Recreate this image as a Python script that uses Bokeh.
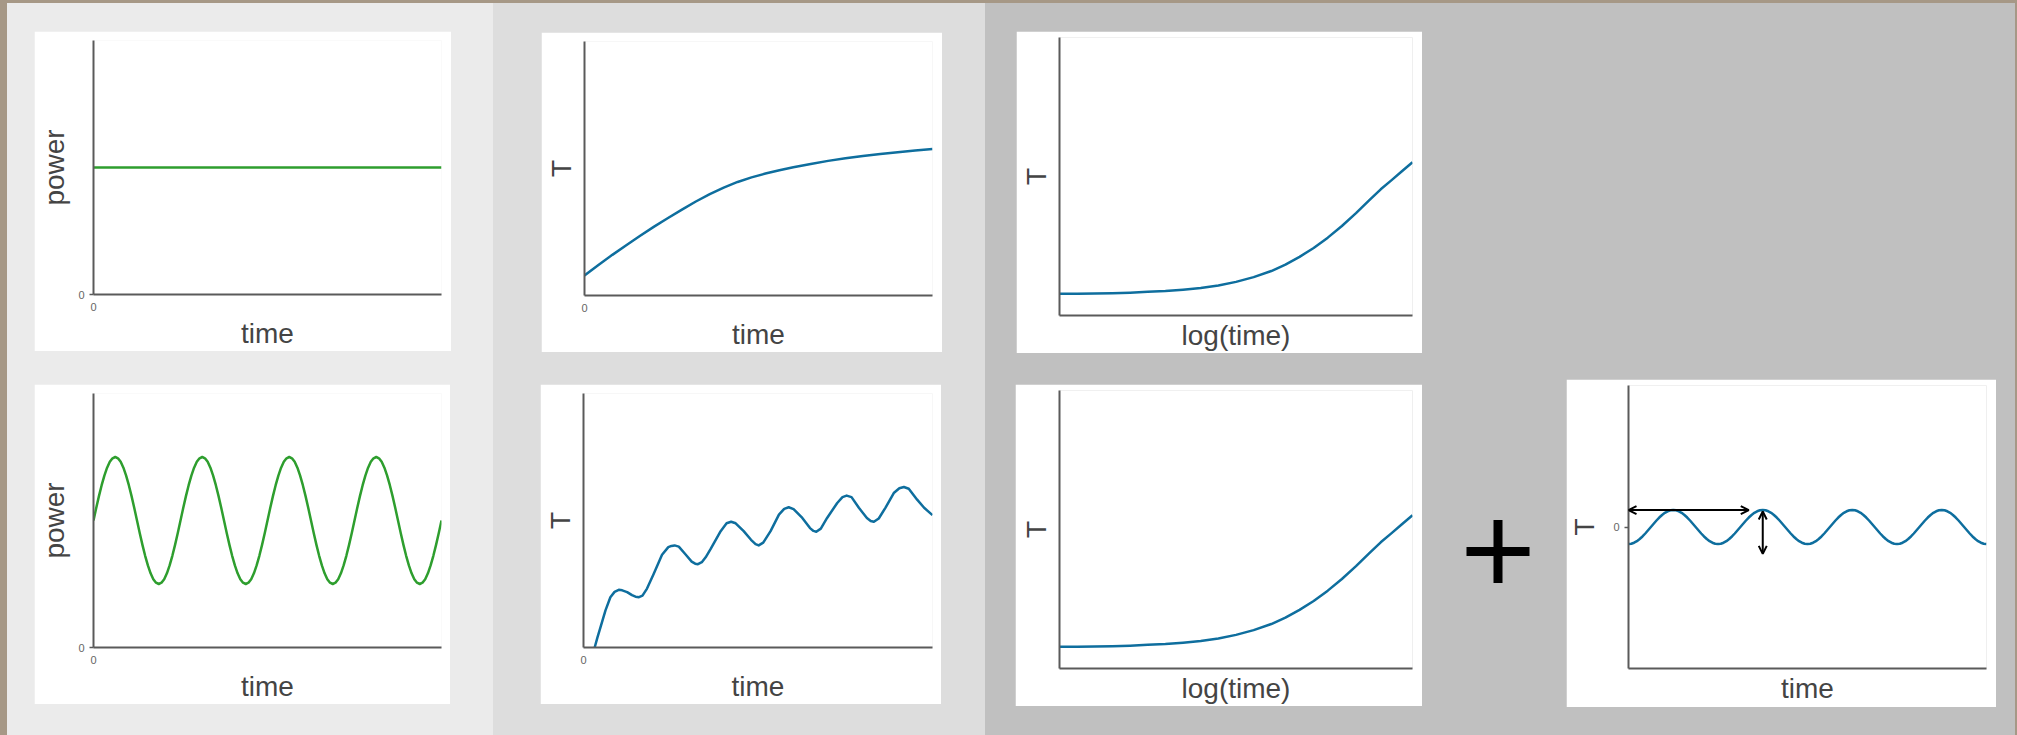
from bokeh.plotting import figure
from bokeh.layouts import row, column
from bokeh.models import Range1d, FixedTicker, Spacer, Arrow, OpenHead
from bokeh.embed import file_html
from bokeh.resources import INLINE

# ---------------- data ----------------
# constant heating power
power_const_time = [0, 128]
power_const = [0.5, 0.5]

# oscillating heating power (32 samples per cycle, 4 cycles)
wave_time = list(range(129))
power_wave = [
    0.5, 0.549, 0.596, 0.639, 0.677, 0.708, 0.731, 0.745,
    0.75, 0.745, 0.731, 0.708, 0.677, 0.639, 0.596, 0.549,
    0.5, 0.451, 0.404, 0.361, 0.323, 0.292, 0.269, 0.255,
    0.25, 0.255, 0.269, 0.292, 0.323, 0.361, 0.404, 0.451,
    0.5, 0.549, 0.596, 0.639, 0.677, 0.708, 0.731, 0.745,
    0.75, 0.745, 0.731, 0.708, 0.677, 0.639, 0.596, 0.549,
    0.5, 0.451, 0.404, 0.361, 0.323, 0.292, 0.269, 0.255,
    0.25, 0.255, 0.269, 0.292, 0.323, 0.361, 0.404, 0.451,
    0.5, 0.549, 0.596, 0.639, 0.677, 0.708, 0.731, 0.745,
    0.75, 0.745, 0.731, 0.708, 0.677, 0.639, 0.596, 0.549,
    0.5, 0.451, 0.404, 0.361, 0.323, 0.292, 0.269, 0.255,
    0.25, 0.255, 0.269, 0.292, 0.323, 0.361, 0.404, 0.451,
    0.5, 0.549, 0.596, 0.639, 0.677, 0.708, 0.731, 0.745,
    0.75, 0.745, 0.731, 0.708, 0.677, 0.639, 0.596, 0.549,
    0.5, 0.451, 0.404, 0.361, 0.323, 0.292, 0.269, 0.255,
    0.25, 0.255, 0.269, 0.292, 0.323, 0.361, 0.404, 0.451,
    0.5,
]

# temperature rise under constant power (time in % of span)
rise_time = [0, 4, 8, 12, 16, 20, 24, 28, 32, 36, 40, 44, 48, 52, 56, 60,
             65, 70, 75, 80, 85, 90, 95, 100]
rise_T = [0.079, 0.120, 0.160, 0.198, 0.235, 0.271, 0.305, 0.338, 0.370,
          0.399, 0.425, 0.447, 0.465, 0.480, 0.493, 0.505, 0.518, 0.530,
          0.540, 0.549, 0.557, 0.564, 0.571, 0.577]

# temperature rise under oscillating power
osc_time = [3.2, 4.0, 4.9, 6.3, 7.7, 8.9, 10.1,
            11.1, 12.5, 13.9, 14.9, 15.9,
            16.9, 18.2, 20.1, 22.5, 24.3, 25.2, 26.1,
            27.3, 29.2, 31.0, 32.0, 32.8,
            33.9, 35.0, 36.4, 39.3, 41.0, 42.3,
            43.6, 45.9, 48.0, 49.3, 50.2,
            51.5, 53.6, 56.0, 57.5, 58.8,
            60.2, 62.7, 64.9, 65.9, 66.7,
            68.0, 69.8, 72.7, 74.2, 75.4,
            76.8, 78.9, 81.2, 82.3, 83.2,
            84.6, 86.5, 88.9, 90.5, 91.8,
            93.2, 95.6, 97.6, 100]
osc_T = [0.0, 0.04, 0.081, 0.146, 0.198, 0.219, 0.227,
         0.225, 0.218, 0.206, 0.2, 0.198,
         0.204, 0.232, 0.289, 0.365, 0.395, 0.4, 0.402,
         0.397, 0.367, 0.338, 0.33, 0.328,
         0.336, 0.355, 0.387, 0.458, 0.489, 0.495,
         0.489, 0.458, 0.424, 0.407, 0.402,
         0.413, 0.458, 0.523, 0.546, 0.552,
         0.545, 0.51, 0.47, 0.459, 0.456,
         0.468, 0.51, 0.569, 0.592, 0.598,
         0.592, 0.55, 0.51, 0.498, 0.495,
         0.508, 0.55, 0.608, 0.627, 0.632,
         0.625, 0.582, 0.55, 0.521]

# temperature against log(time)
log_time = [0, 5, 10, 15, 20, 25, 30, 35, 40, 45, 50, 55, 60, 64, 68, 72,
            76, 80, 84, 88, 91, 94, 97, 100]
log_T = [0.078, 0.0785, 0.079, 0.080, 0.082, 0.085, 0.088, 0.093, 0.099,
         0.108, 0.121, 0.138, 0.160, 0.183, 0.211, 0.243, 0.280, 0.322,
         0.368, 0.418, 0.454, 0.486, 0.519, 0.551]

# steady oscillating temperature about zero (32 samples per cycle)
T_wave = [
    -0.12, -0.118, -0.111, -0.1, -0.085, -0.067, -0.046, -0.023,
    0.0, 0.023, 0.046, 0.067, 0.085, 0.1, 0.111, 0.118,
    0.12, 0.118, 0.111, 0.1, 0.085, 0.067, 0.046, 0.023,
    0.0, -0.023, -0.046, -0.067, -0.085, -0.1, -0.111, -0.118,
    -0.12, -0.118, -0.111, -0.1, -0.085, -0.067, -0.046, -0.023,
    0.0, 0.023, 0.046, 0.067, 0.085, 0.1, 0.111, 0.118,
    0.12, 0.118, 0.111, 0.1, 0.085, 0.067, 0.046, 0.023,
    0.0, -0.023, -0.046, -0.067, -0.085, -0.1, -0.111, -0.118,
    -0.12, -0.118, -0.111, -0.1, -0.085, -0.067, -0.046, -0.023,
    0.0, 0.023, 0.046, 0.067, 0.085, 0.1, 0.111, 0.118,
    0.12, 0.118, 0.111, 0.1, 0.085, 0.067, 0.046, 0.023,
    0.0, -0.023, -0.046, -0.067, -0.085, -0.1, -0.111, -0.118,
    -0.12, -0.118, -0.111, -0.1, -0.085, -0.067, -0.046, -0.023,
    0.0, 0.023, 0.046, 0.067, 0.085, 0.1, 0.111, 0.118,
    0.12, 0.118, 0.111, 0.1, 0.085, 0.067, 0.046, 0.023,
    0.0, -0.023, -0.046, -0.067, -0.085, -0.1, -0.111, -0.118,
    -0.12,
]
# period and amplitude markers
period_arrow_x = [0, 43]
period_arrow_y = 0.12
amp_arrow_x = 48
amp_arrow_y = [0.11, -0.19]

GREEN = "#2e9e2e"
BLUE = "#0e6e9e"
FONT = "Liberation Sans"


def panel(w, h, borders, x_end, y_range, xlabel, ylabel, xticks, yticks,
          ylabel_standoff=5, xlabel_standoff=4):
    top, right, bottom, left = borders
    p = figure(width=w, height=h, x_range=Range1d(0, x_end),
               y_range=Range1d(*y_range), toolbar_location=None,
               output_backend="svg", min_border_top=top,
               min_border_right=right, min_border_bottom=bottom,
               min_border_left=left)
    p.grid.visible = False
    p.outline_line_color = None
    p.background_fill_color = "white"
    p.border_fill_color = "white"
    for ax, ticks, label, standoff in ((p.xaxis[0], xticks, xlabel, xlabel_standoff),
                                       (p.yaxis[0], yticks, ylabel, ylabel_standoff)):
        ax.ticker = FixedTicker(ticks=ticks, minor_ticks=[])
        ax.axis_label = label
        ax.axis_label_text_font = FONT
        ax.axis_label_text_font_size = "28px"
        ax.axis_label_text_font_style = "normal"
        ax.axis_label_text_color = "#444444"
        ax.axis_label_standoff = standoff
        ax.axis_line_color = "#5a5a5a"
        ax.axis_line_width = 2
        ax.major_tick_in = 0
        ax.minor_tick_in = 0
        ax.minor_tick_out = 0
        ax.major_tick_line_color = "#5a5a5a"
        ax.major_tick_line_width = 1.5
        ax.major_label_text_font = FONT
        ax.major_label_text_font_size = "11px"
        ax.major_label_text_color = "#666666"
    p.xaxis[0].major_tick_out = 0
    p.xaxis[0].major_label_standoff = 8 if xticks else 0
    p.yaxis[0].major_tick_out = 4 if yticks else 0
    p.yaxis[0].major_label_standoff = 5 if yticks else 0
    return p


# column 1: heating power
p1 = panel(417, 320, (9, 10, 55, 59), 128, (0, 1), "time", "power", [0], [0])
p1.line(power_const_time, power_const, line_color=GREEN, line_width=2.5)

p2 = panel(416, 320, (9, 9, 55, 59), 128, (0, 1), "time", "power", [0], [0])
p2.line(wave_time, power_wave, line_color=GREEN, line_width=2.5, line_join="round")

# column 2: temperature against time
p3 = panel(401, 320, (9, 10, 55, 43), 100, (0, 1), "time", "T", [0], [], ylabel_standoff=8)
p3.line(rise_time, rise_T, line_color=BLUE, line_width=2.5, line_join="round")

p4 = panel(401, 320, (9, 9, 55, 43), 100, (0, 1), "time", "T", [0], [], ylabel_standoff=8)
p4.line(osc_time, osc_T, line_color=BLUE, line_width=2.5, line_join="round")

# column 3: temperature against log(time)
p5 = panel(406, 322, (6, 10, 38, 43), 100, (0, 1), "log(time)", "T", [], [],
           ylabel_standoff=8, xlabel_standoff=4)
p5.line(log_time, log_T, line_color=BLUE, line_width=2.5, line_join="round")

p6 = panel(407, 322, (6, 10, 38, 44), 100, (0, 1), "log(time)", "T", [], [],
           ylabel_standoff=8, xlabel_standoff=4)
p6.line(log_time, log_T, line_color=BLUE, line_width=2.5, line_join="round")

# plus sign between the log plot and the oscillation plot
plus = figure(width=144, height=322, x_range=Range1d(0, 144), y_range=Range1d(0, 322),
              x_axis_type=None, y_axis_type=None, toolbar_location=None,
              output_backend="svg", min_border=0)
plus.grid.visible = False
plus.outline_line_color = None
plus.background_fill_color = "#c0c0c0"
plus.border_fill_color = "#c0c0c0"
plus.scatter([75.5], [155], marker="cross", size=63, line_width=9, line_color="black")

# oscillating component
p7 = panel(430, 328, (6, 10, 39, 61), 128, (-1, 1), "time", "T", [], [0],
           ylabel_standoff=10, xlabel_standoff=4)
p7.line(wave_time, T_wave, line_color=BLUE, line_width=2.5, line_join="round")
p7.add_layout(Arrow(start=OpenHead(size=8, line_width=2, line_color="black"),
                    end=OpenHead(size=8, line_width=2, line_color="black"),
                    x_start=period_arrow_x[0], y_start=period_arrow_y,
                    x_end=period_arrow_x[1], y_end=period_arrow_y,
                    line_width=2, line_color="black"))
p7.add_layout(Arrow(start=OpenHead(size=8, line_width=2, line_color="black"),
                    end=OpenHead(size=8, line_width=2, line_color="black"),
                    x_start=amp_arrow_x, y_start=amp_arrow_y[0],
                    x_end=amp_arrow_x, y_end=amp_arrow_y[1],
                    line_width=2, line_color="black"))

band1 = column(Spacer(height=28), row(Spacer(width=27), p1),
               Spacer(height=33), row(Spacer(width=27), p2),
               width=486, height=732, styles={"background-color": "#ebebeb"})
band2 = column(Spacer(height=29), row(Spacer(width=48), p3),
               Spacer(height=32), row(Spacer(width=47), p4),
               width=492, height=732, styles={"background-color": "#dddddd"})
band3 = column(Spacer(height=28), row(Spacer(width=31), p5),
               Spacer(height=26),
               row(Spacer(width=30), column(Spacer(height=5), p6),
                   column(Spacer(height=5), plus), p7),
               width=1030, height=732, styles={"background-color": "#c0c0c0"})

root = column(Spacer(height=3),
              row(Spacer(width=7), band1, band2, band3, Spacer(width=2)),
              width=2017, height=735, styles={"background-color": "#a69886"})

open("out.html", "w").write(file_html(root, INLINE))
